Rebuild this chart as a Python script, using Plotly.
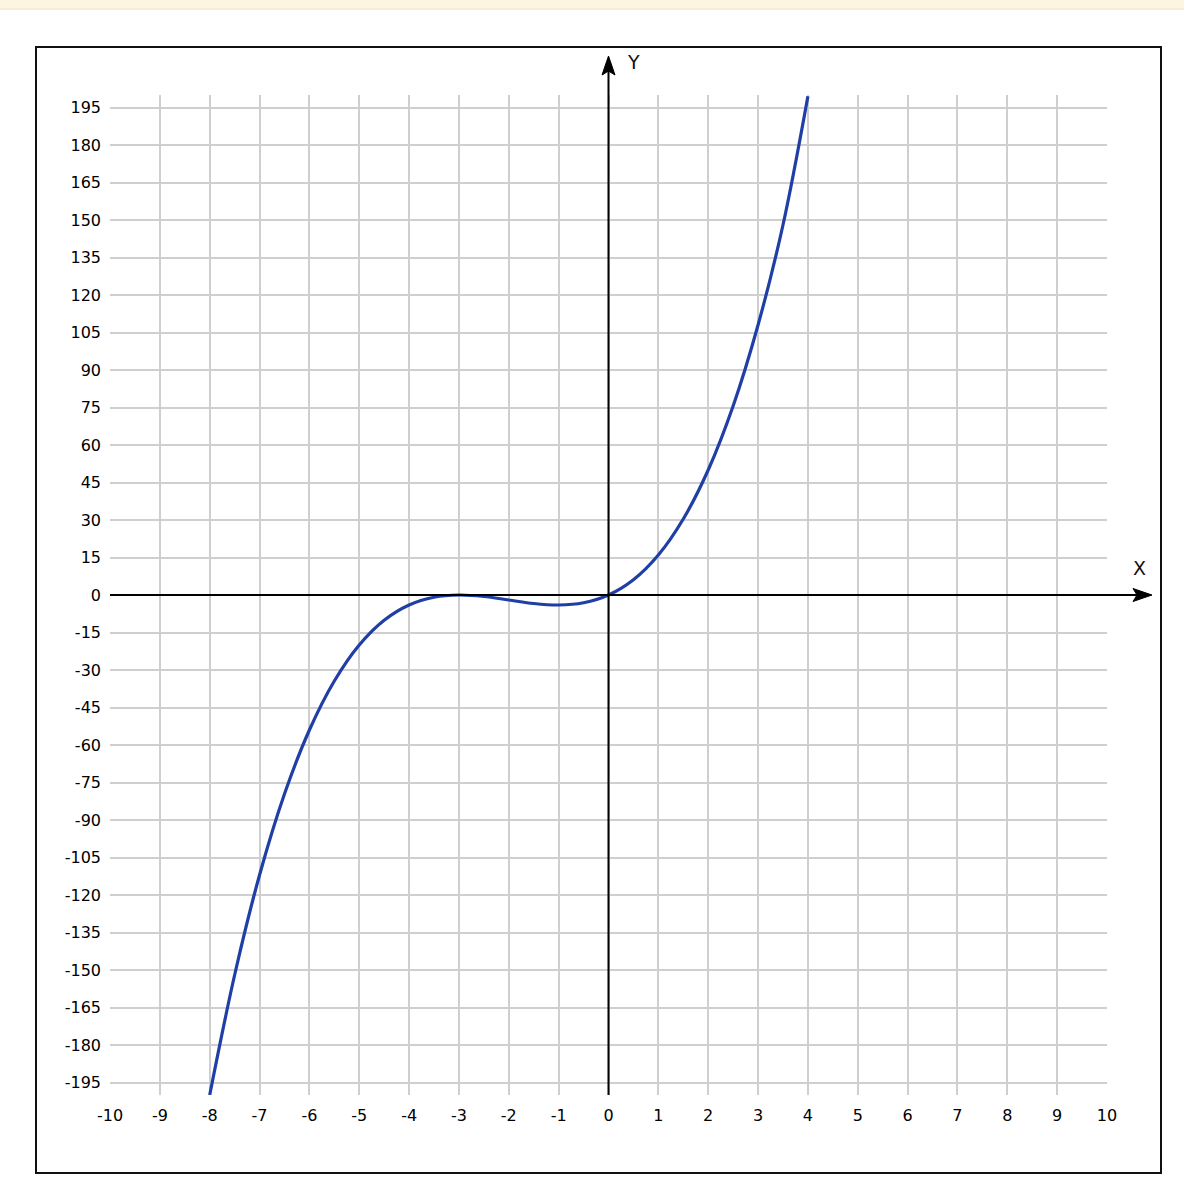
import plotly.graph_objects as go

# Data
x_vals = [-8, -7.5, -7, -6.5, -6, -5.5, -5, -4.5, -4, -3.5, -3, -2.5, -2, -1.5,
          -1, -0.5, 0, 0.5, 1, 1.5, 2, 2.5, 3, 3.5, 4]
y_vals = [-200, -152, -112, -79.6, -54, -34.4, -20, -10.1, -4, -0.9, 0, -0.6, -2, -3.4,
          -4, -3.1, 0, 6.1, 16, 30.4, 50, 75.6, 108, 148, 199.5]
x_ticks = list(range(-10, 11))
y_ticks = list(range(-195, 196, 15))

W, H = 1184, 1200
L, R, T, B = 110, 77, 95, 105
pw = W - L - R
ph = H - T - B

def px(xp):
    return (xp - L) / pw

def py(yp):
    return (H - B - yp) / ph

fig = go.Figure()
fig.add_trace(go.Scatter(
    x=x_vals, y=y_vals, mode="lines",
    line=dict(color="#1f3fa6", width=3.2, shape="spline", smoothing=1.0),
    hoverinfo="skip", showlegend=False, cliponaxis=True,
))

font = dict(family="DejaVu Sans", size=16, color="#000000")

fig.update_xaxes(
    range=[-10, 10], tickvals=x_ticks, ticktext=[str(v) for v in x_ticks],
    showgrid=True, gridcolor="#cfcfcf", gridwidth=2, zeroline=False,
    showline=False, ticks="", tickfont=font, fixedrange=True,
    ticklabelstandoff=9,
)
fig.update_yaxes(
    range=[-200, 200], tickvals=y_ticks, ticktext=[str(v) for v in y_ticks],
    showgrid=True, gridcolor="#cfcfcf", gridwidth=2, zeroline=False,
    showline=False, ticks="", tickfont=font, fixedrange=True,
    ticklabelstandoff=8,
)

x0p = 0.5  # paper x of x=0
y0p = 0.5  # paper y of y=0

shapes = [
    # top beige strip
    dict(type="rect", xref="paper", yref="paper", x0=px(0), x1=px(W), y0=py(8), y1=py(0),
         fillcolor="#fdf5e2", line=dict(width=0), layer="below"),
    dict(type="line", xref="paper", yref="paper", x0=px(0), x1=px(W), y0=py(9), y1=py(9),
         line=dict(color="#f6ecd8", width=2)),
    # outer frame
    dict(type="rect", xref="paper", yref="paper", x0=px(36), x1=px(1161), y0=py(1173), y1=py(47),
         line=dict(color="#111111", width=2), fillcolor="rgba(0,0,0,0)"),
    # y axis line
    dict(type="line", xref="paper", yref="paper", x0=x0p, x1=x0p, y0=0, y1=py(70),
         line=dict(color="#000000", width=2)),
    # x axis line
    dict(type="line", xref="paper", yref="paper", x0=0, x1=px(1140), y0=y0p, y1=y0p,
         line=dict(color="#000000", width=2)),
]

# arrowheads (paper coords built from pixel offsets)
xc = L + pw * x0p
tip_y, base_y, notch_y, hw = 56, 75, 71, 6.5
shapes.append(dict(
    type="path", xref="paper", yref="paper",
    path=(f"M {px(xc)},{py(tip_y)} L {px(xc - hw)},{py(base_y)} L {px(xc)},{py(notch_y)} "
          f"L {px(xc + hw)},{py(base_y)} Z"),
    fillcolor="#000000", line=dict(color="#000000", width=1)))
yc = H - B - ph * y0p
tip_x, base_x, notch_x = 1152, 1133, 1137
shapes.append(dict(
    type="path", xref="paper", yref="paper",
    path=(f"M {px(tip_x)},{py(yc)} L {px(base_x)},{py(yc - hw)} L {px(notch_x)},{py(yc)} "
          f"L {px(base_x)},{py(yc + hw)} Z"),
    fillcolor="#000000", line=dict(color="#000000", width=1)))

annotations = [
    dict(text="Y", xref="paper", yref="paper", x=px(633), y=py(62), showarrow=False,
         xanchor="center", yanchor="middle",
         font=dict(family="DejaVu Sans", size=19, color="#111111")),
    dict(text="X", xref="paper", yref="paper", x=px(1139), y=py(568), showarrow=False,
         xanchor="center", yanchor="middle",
         font=dict(family="DejaVu Sans", size=19, color="#111111")),
]

fig.update_layout(
    width=W, height=H,
    margin=dict(l=L, r=R, t=T, b=B, pad=0),
    paper_bgcolor="#ffffff", plot_bgcolor="#ffffff",
    shapes=shapes, annotations=annotations, showlegend=False,
)

fig.write_html(
    "out.html",
    config={"displayModeBar": False},
    post_script="document.body.style.margin='0';document.body.style.overflow='hidden';",
)
